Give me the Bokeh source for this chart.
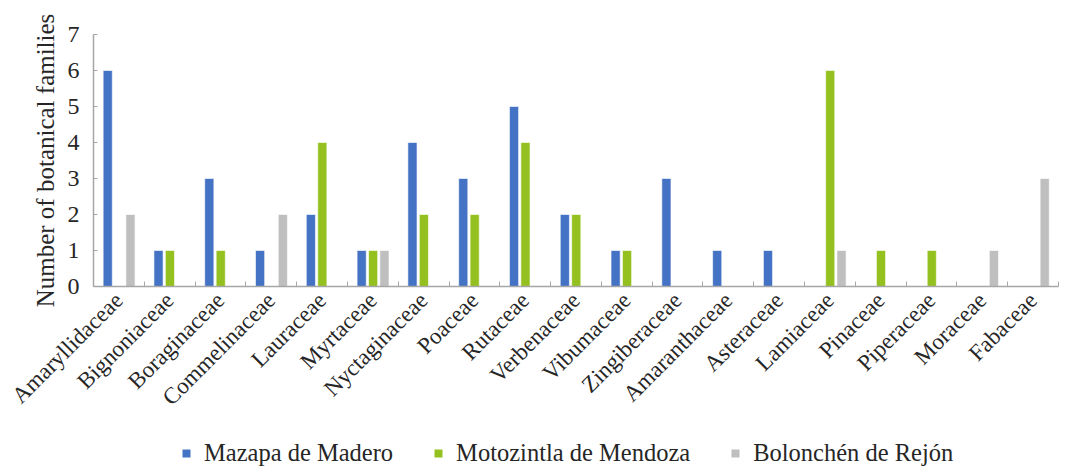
import math
from bokeh.plotting import figure
from bokeh.layouts import column
from bokeh.models import ColumnDataSource, Range1d, FixedTicker, Legend, LegendItem
from bokeh.transform import dodge
from bokeh.embed import file_html
from bokeh.resources import INLINE

families = ["Amaryllidaceae", "Bignoniaceae", "Boraginaceae", "Commelinaceae", "Lauraceae",
            "Myrtaceae", "Nyctaginaceae", "Poaceae", "Rutaceae", "Verbenaceae", "Vibumaceae",
            "Zingiberaceae", "Amaranthaceae", "Asteraceae", "Lamiaceae", "Pinaceae",
            "Piperaceae", "Moraceae", "Fabaceae"]
mazapa = [6, 1, 3, 1, 2, 1, 4, 3, 5, 2, 1, 3, 1, 1, 0, 0, 0, 0, 0]
motozintla = [0, 1, 1, 0, 4, 1, 2, 2, 4, 2, 1, 0, 0, 0, 6, 1, 1, 0, 0]
bolonchen = [2, 0, 0, 2, 0, 1, 0, 0, 0, 0, 0, 0, 0, 0, 1, 0, 0, 1, 3]
series_names = ["Mazapa de Madero", "Motozintla de Mendoza", "Bolonchén de Rejón"]
y_ticks = [0, 1, 2, 3, 4, 5, 6, 7]

colors = ["#4472C4", "#94C11F", "#BFBFBF"]
FONT = "Liberation Serif"
cols = ["mazapa", "motozintla", "bolonchen"]

n = len(families)
centers = [i + 0.5 for i in range(n)]
source = ColumnDataSource(dict(x=centers, mazapa=mazapa, motozintla=motozintla, bolonchen=bolonchen))

p = figure(width=1066, height=430, output_backend="svg", toolbar_location=None,
           x_range=Range1d(0, n), y_range=Range1d(0, 7),
           min_border_left=93, min_border_right=8, min_border_top=34, min_border_bottom=144)
p.outline_line_color = None
p.grid.grid_line_color = None
p.background_fill_color = "white"

for col, off, c in zip(cols, [-0.22, 0.005, 0.228], colors):
    p.vbar(x=dodge("x", off), top=col, width=0.18, source=source,
           fill_color=c, line_color="white", line_width=0.6)

# x axis
p.xaxis.ticker = FixedTicker(ticks=centers, minor_ticks=list(range(n + 1)))
p.xaxis.major_label_overrides = {c: f for c, f in zip(centers, families)}
p.xaxis.major_label_orientation = math.pi / 4
p.xaxis.major_tick_line_color = None
p.xaxis.minor_tick_in = 5
p.xaxis.minor_tick_out = 0
p.xaxis.minor_tick_line_color = "#A6A6A6"
p.xaxis.axis_line_color = "#A6A6A6"
p.xaxis.axis_line_width = 1.5
p.xaxis.major_label_text_font = FONT
p.xaxis.major_label_text_font_size = "23px"
p.xaxis.major_label_text_color = "#262626"
p.xaxis.major_label_standoff = 4

# y axis
p.yaxis.ticker = FixedTicker(ticks=y_ticks)
p.yaxis.minor_tick_line_color = None
p.yaxis.major_tick_in = 4
p.yaxis.major_tick_out = 0
p.yaxis.major_tick_line_color = "#A6A6A6"
p.yaxis.axis_line_color = "#A6A6A6"
p.yaxis.axis_line_width = 1.5
p.yaxis.major_label_text_font = FONT
p.yaxis.major_label_text_font_size = "24px"
p.yaxis.major_label_text_color = "#262626"
p.yaxis.major_label_standoff = 14
p.yaxis.axis_label = "Number of botanical families"
p.yaxis.axis_label_text_font = FONT
p.yaxis.axis_label_text_font_size = "25px"
p.yaxis.axis_label_text_font_style = "normal"
p.yaxis.axis_label_text_color = "#262626"
p.yaxis.axis_label_standoff = 6

# legend strip below the chart (its markers lie outside its visible range)
lg = figure(width=1066, height=37, output_backend="svg", toolbar_location=None,
            x_range=Range1d(1000, 1001), y_range=Range1d(1000, 1001),
            min_border=0, min_border_left=0, min_border_right=0, min_border_top=0, min_border_bottom=0)
lg.outline_line_color = None
lg.axis.visible = False
lg.grid.grid_line_color = None
items = []
for nm, col, c in zip(series_names, cols, colors):
    r = lg.scatter(x="x", y=col, marker="square", size=8, source=source, fill_color=c, line_color=None)
    items.append(LegendItem(label=nm, renderers=[r]))
legend = Legend(items=items, orientation="horizontal", location=(83, 0), padding=0, margin=0,
                label_text_font=FONT, label_text_font_size="24.5px", label_text_color="#262626",
                glyph_width=20, glyph_height=20, spacing=35, label_standoff=8,
                border_line_color=None, background_fill_alpha=0)
lg.add_layout(legend, "center")

layout = column(p, lg, spacing=0)
open("out.html", "w").write(file_html(layout, INLINE))
